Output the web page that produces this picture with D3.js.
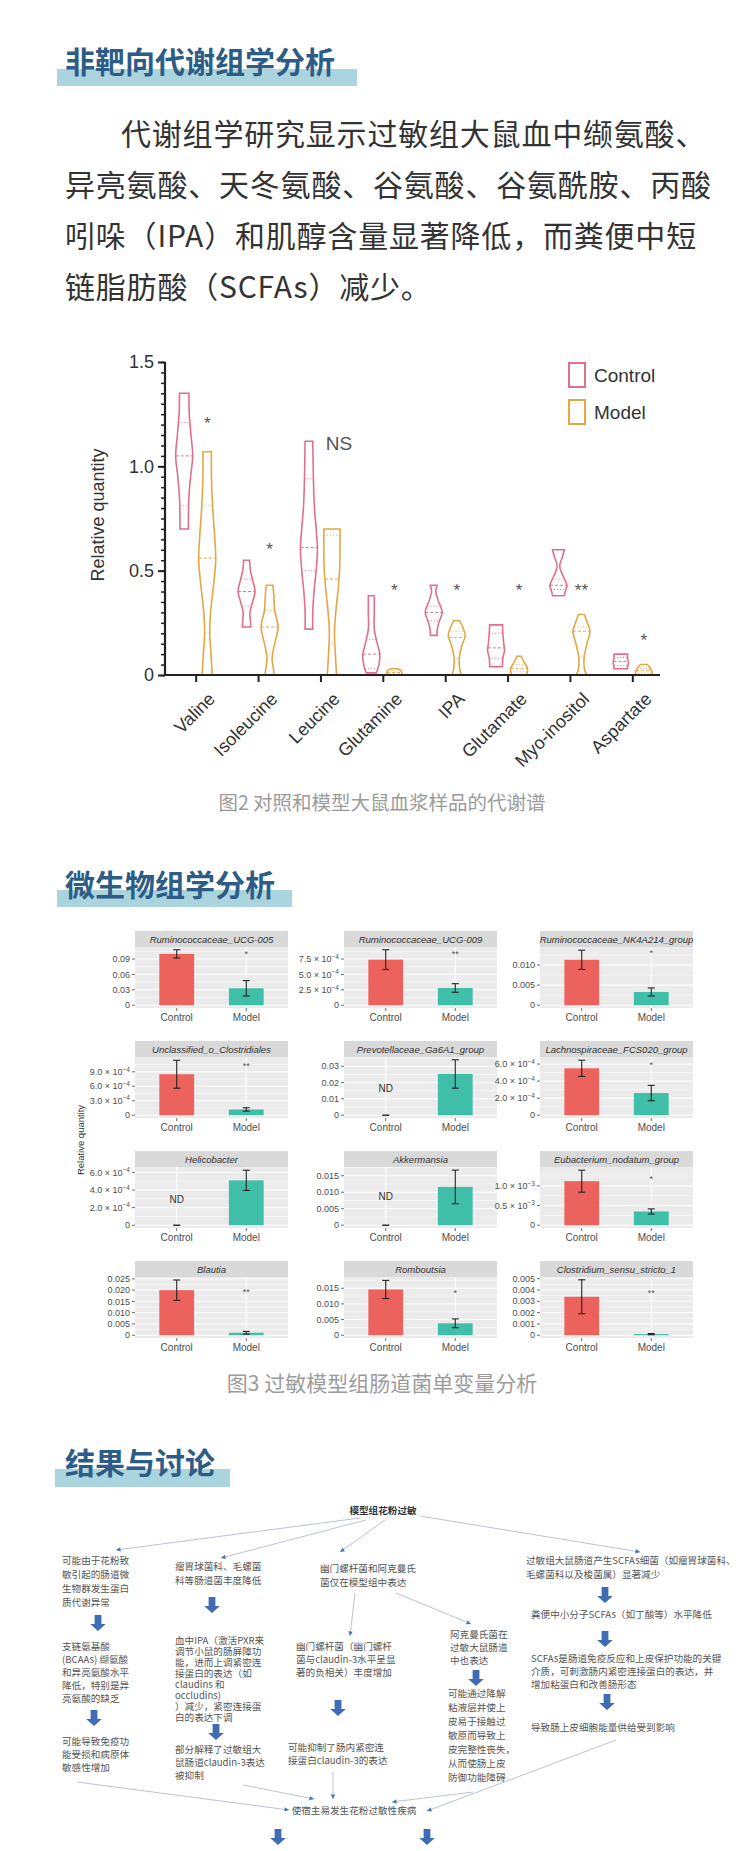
<!DOCTYPE html>
<html><head><meta charset="utf-8">
<script src="https://cdn.jsdelivr.net/npm/d3@7"></script>
<style>body{margin:0;background:#fff}svg{display:block}</style>
</head><body>
<svg id="c" width="756" height="1851"></svg>
<script>
// ---------------- DATA ----------------
const sectionTitles = ["非靶向代谢组学分析", "微生物组学分析", "结果与讨论"];
const paragraphLines = ["代谢组学研究显示过敏组大鼠血中缬氨酸、", "异亮氨酸、天冬氨酸、谷氨酸、谷氨酰胺、丙酸", "吲哚（IPA）和肌醇含量显著降低，而粪便中短", "链脂肪酸（SCFAs）减少。"];
const captions = ["图2 对照和模型大鼠血浆样品的代谢谱", "图3 过敏模型组肠道菌单变量分析"];

// Violin chart (Fig 2)
const metabolites = ["Valine", "Isoleucine", "Leucine", "Glutamine", "IPA", "Glutamate", "Myo-inositol", "Aspartate"];
const violinGroups = ["Control", "Model"];
const violinYTicks = [0, 0.5, 1.0, 1.5];
// profiles: [value, relative half-width]
const controlProfiles = [
  [[1.35,0.55],[1.25,0.6],[1.15,0.8],[1.05,1.0],[0.95,0.75],[0.85,0.55],[0.75,0.5],[0.70,0.5]],
  [[0.55,0.35],[0.50,0.45],[0.45,0.75],[0.40,1.0],[0.35,0.7],[0.30,0.4],[0.26,0.45],[0.23,0.5]],
  [[1.12,0.45],[1.0,0.5],[0.9,0.55],[0.8,0.65],[0.7,0.85],[0.6,1.0],[0.5,0.85],[0.4,0.6],[0.3,0.45],[0.22,0.45]],
  [[0.38,0.35],[0.30,0.35],[0.22,0.35],[0.15,0.7],[0.10,1.0],[0.05,0.9],[0.01,0.6]],
  [[0.43,0.4],[0.40,0.25],[0.36,0.5],[0.30,1.0],[0.25,0.6],[0.21,0.4],[0.19,0.4]],
  [[0.24,0.75],[0.20,0.8],[0.15,0.9],[0.12,1.0],[0.08,0.8],[0.05,0.75],[0.04,0.75]],
  [[0.60,0.7],[0.57,0.5],[0.52,0.15],[0.47,0.6],[0.43,1.0],[0.40,0.8],[0.38,0.7]],
  [[0.10,0.8],[0.08,0.8],[0.06,0.9],[0.04,0.8],[0.03,0.8]]
];
const modelProfiles = [
  [[1.07,0.5],[0.95,0.5],[0.8,0.65],[0.65,0.9],[0.55,1.0],[0.45,0.8],[0.3,0.4],[0.2,0.3],[0.1,0.45],[0,0.6]],
  [[0.43,0.4],[0.38,0.5],[0.31,0.6],[0.23,1.0],[0.15,0.6],[0.08,0.3],[0.03,0.45],[0,0.55]],
  [[0.70,0.95],[0.60,0.95],[0.50,0.9],[0.40,0.7],[0.30,0.45],[0.20,0.3],[0.10,0.4],[0,0.55]],
  [[0.03,0.4],[0.02,0.8],[0,0.9]],
  [[0.26,0.35],[0.23,0.7],[0.19,1.0],[0.14,0.6],[0.08,0.3],[0.03,0.35],[0,0.55]],
  [[0.09,0.25],[0.06,0.6],[0.03,1.0],[0,0.9]],
  [[0.29,0.35],[0.25,0.7],[0.21,1.0],[0.15,0.65],[0.08,0.3],[0.03,0.35],[0,0.6]],
  [[0.05,0.4],[0.03,0.8],[0.01,1.0],[0,0.9]]
];
const controlMedian = [1.05, 0.40, 0.61, 0.10, 0.30, 0.13, 0.43, 0.065];
const controlQ1 = [0.81, 0.33, 0.50, 0.03, 0.26, 0.08, 0.41, 0.045];
const controlQ3 = [1.21, 0.46, 0.94, 0.17, 0.33, 0.20, 0.46, 0.085];
const modelMedian = [0.56, 0.23, 0.46, 0.012, 0.18, 0.03, 0.21, 0.02];
const modelQ1 = [0.20, 0.10, 0.15, 0.005, 0.08, 0.015, 0.09, 0.01];
const modelQ3 = [0.81, 0.31, 0.67, 0.02, 0.21, 0.05, 0.23, 0.03];
const violinSig = ["*", "*", "NS", "*", "*", "*", "**", "*"];
const violinSigValue = [1.22, 0.62, 1.11, 0.42, 0.42, 0.42, 0.42, 0.18];

// Bar panels (Fig 3)
const taxa = ["Ruminococcaceae_UCG-005", "Ruminococcaceae_UCG-009", "Ruminococcaceae_NK4A214_group",
  "Unclassified_o_Clostridiales", "Prevotellaceae_Ga6A1_group", "Lachnospiraceae_FCS020_group",
  "Helicobacter", "Akkermansia", "Eubacterium_nodatum_group",
  "Blautia", "Romboutsia", "Clostridium_sensu_stricto_1"];
const barGroups = ["Control", "Model"];
const controlMean = [0.100, 7.4e-4, 0.0113, 8.5e-4, 0, 5.5e-4, 0, 0, 1.12e-3, 0.020, 0.0146, 0.0034];
const controlErr  = [0.008, 1.6e-4, 0.0024, 2.9e-4, 0, 0.95e-4, 0, 0, 0.28e-3, 0.0045, 0.0029, 0.0015];
const modelMean   = [0.033, 2.8e-4, 0.0033, 1.2e-4, 0.0253, 2.6e-4, 5.1e-4, 0.0116, 0.35e-3, 0.0011, 0.0038, 0.0001];
const modelErr    = [0.015, 0.7e-4, 0.001, 0.35e-4, 0.0087, 0.9e-4, 1.15e-4, 0.0051, 0.065e-3, 0.0006, 0.0014, 0.00005];
const panelYMax   = [0.108, 9.0e-4, 0.0138, 11.5e-4, 0.034, 6.5e-4, 6.3e-4, 0.0168, 1.41e-3, 0.0246, 0.0177, 0.0049];
const panelTicks = [
  [0, 0.03, 0.06, 0.09], [0, 2.5e-4, 5e-4, 7.5e-4], [0, 0.005, 0.010],
  [0, 3e-4, 6e-4, 9e-4], [0, 0.01, 0.02, 0.03], [0, 2e-4, 4e-4, 6e-4],
  [0, 2e-4, 4e-4, 6e-4], [0, 0.005, 0.010, 0.015], [0, 0.5e-3, 1.0e-3],
  [0, 0.005, 0.010, 0.015, 0.020, 0.025], [0, 0.005, 0.010, 0.015], [0, 0.001, 0.002, 0.003, 0.004, 0.005]
];
const panelTickLabels = [
  ["0", "0.03", "0.06", "0.09"], ["0", "2.5 × 10^-4", "5.0 × 10^-4", "7.5 × 10^-4"], ["0", "0.005", "0.010"],
  ["0", "3.0 × 10^-4", "6.0 × 10^-4", "9.0 × 10^-4"], ["0", "0.01", "0.02", "0.03"], ["0", "2.0 × 10^-4", "4.0 × 10^-4", "6.0 × 10^-4"],
  ["0", "2.0 × 10^-4", "4.0 × 10^-4", "6.0 × 10^-4"], ["0", "0.005", "0.010", "0.015"], ["0", "0.5 × 10^-3", "1.0 × 10^-3"],
  ["0", "0.005", "0.010", "0.015", "0.020", "0.025"], ["0", "0.005", "0.010", "0.015"], ["0", "0.001", "0.002", "0.003", "0.004", "0.005"]
];
const panelSig = ["*", "**", "*", "**", "", "*", "", "", "*", "**", "*", "**"];
const panelSigValue = [0.103, 8.6e-4, 0.0134, 10.6e-4, 0, 6.1e-4, 0, 0, 1.22e-3, 0.020, 0.0142, 0.0039];
const panelND = [null, null, null, null, 0.0163, null, 2.9e-4, 0.0088, null, null, null, null];

// Flowchart
const flowTop = "模型组花粉过敏";
const flowBottom = "使宿主易发生花粉过敏性疾病";
const flowA = [["可能由于花粉致", "敏引起的肠道微", "生物群发生蛋白", "质代谢异常"],
  ["支链氨基酸", "(BCAAs) 缬氨酸", "和异亮氨酸水平", "降低，特别是异", "亮氨酸的缺乏"],
  ["可能导致免疫功", "能受损和病原体", "敏感性增加"]];
const flowB = [["瘤胃球菌科、毛螺菌", "科等肠道菌丰度降低"],
  ["血中IPA（激活PXR来", "调节小鼠的肠屏障功", "能，进而上调紧密连", "接蛋白的表达（如", "claudins 和", "occludins)", "）减少，紧密连接蛋", "白的表达下调"],
  ["部分解释了过敏组大", "鼠肠道claudin-3表达", "被抑制"]];
const flowC = [["幽门螺杆菌和阿克曼氏", "菌仅在模型组中表达"],
  ["幽门螺杆菌（幽门螺杆", "菌与claudin-3水平呈显", "著的负相关）丰度增加"],
  ["可能抑制了肠内紧密连", "接蛋白claudin-3的表达"]];
const flowD = [["阿克曼氏菌在", "过敏大鼠肠道", "中也表达"],
  ["可能通过降解", "粘液层并使上", "皮易于接触过", "敏原而导致上", "皮完整性丧失，", "从而使肠上皮", "防御功能障碍"]];
const flowE = [["过敏组大鼠肠道产生SCFAs细菌（如瘤胃球菌科、", "毛螺菌科以及梭菌属）显著减少"],
  ["粪便中小分子SCFAs（如丁酸等）水平降低"],
  ["SCFAs是肠道免疫反应和上皮保护功能的关键", "介质，可刺激肠内紧密连接蛋白的表达，并", "增加粘蛋白和改善肠形态"],
  ["导致肠上皮细胞能量供给受到影响"]];

// ---------------- DRAW ----------------
const svg = d3.select("#c");
const CJK = "'Noto Sans CJK SC','Noto Sans',sans-serif";
const LAT = "'Liberation Sans',Arial,sans-serif";

// Section titles with band
const titleLayout = [{y: 73, band: [57, 69, 300, 17]}, {y: 896, band: [57, 890, 235, 17]}, {y: 1474, band: [55, 1469, 175, 18]}];
sectionTitles.forEach((t, i) => {
  const L = titleLayout[i];
  svg.append("rect").attr("x", L.band[0]).attr("y", L.band[1]).attr("width", L.band[2]).attr("height", L.band[3]).attr("fill", "#abd5de");
  svg.append("text").attr("x", 65).attr("y", L.y).text(t)
    .attr("font-family", CJK).attr("font-weight", 700).attr("font-size", 30).attr("fill", "#2d5c87");
});

// Paragraph
paragraphLines.forEach((t, i) => {
  svg.append("text").attr("x", i === 0 ? 121 : 65).attr("y", 145 + i * 51).text(t)
    .attr("font-family", CJK).attr("font-size", 30).attr("letter-spacing", 0.8).attr("fill", "#333");
});

// Captions
[[810, 19.5], [1391, 21]].forEach(([y, fs], i) => {
  svg.append("text").attr("x", 382).attr("y", y).attr("text-anchor", "middle").text(captions[i])
    .attr("font-family", CJK).attr("font-size", fs).attr("fill", "#9b9b9b");
});

// ---- Violin chart ----
(function () {
  const g = svg.append("g");
  const x = d3.scaleBand().domain(metabolites).range([165, 664]);
  const y = d3.scaleLinear().domain([0, 1.5]).range([675, 362]);
  const hw = 8.5;
  const offs = [-12, 11];
  const colors = ["#e0708b", "#e4a744"];
  const area = d3.area().curve(d3.curveCatmullRom.alpha(0.5));
  function widthAt(p, v) {
    for (let k = 0; k < p.length - 1; k++) {
      const a = p[k], b = p[k + 1];
      if (v <= a[0] && v >= b[0]) { const t = (a[0] - v) / (a[0] - b[0] || 1); return a[1] + (b[1] - a[1]) * t; }
    }
    return p[p.length - 1][1];
  }
  const profs = [controlProfiles, modelProfiles];
  const meds = [controlMedian, modelMedian], q1s = [controlQ1, modelQ1], q3s = [controlQ3, modelQ3];
  metabolites.forEach((m, i) => {
    [0, 1].forEach(gi => {
      const cx = x(m) + x.bandwidth() / 2 + offs[gi];
      const p = profs[gi][i];
      g.append("path").attr("d", area.x0(d => cx - d[1] * hw).x1(d => cx + d[1] * hw).y(d => y(d[0]))(p))
        .attr("fill", "none").attr("stroke", colors[gi]).attr("stroke-width", 1.6);
      [[meds[gi][i], "3,2"], [q1s[gi][i], "1,2"], [q3s[gi][i], "1,2"]].forEach(([v, da]) => {
        const w = widthAt(p, v) * hw;
        g.append("line").attr("x1", cx - w).attr("x2", cx + w).attr("y1", y(v)).attr("y2", y(v))
          .attr("stroke", colors[gi]).attr("stroke-width", 1).attr("stroke-dasharray", da);
      });
    });
    const sx = x(m) + x.bandwidth() / 2 + (violinSig[i] === "NS" ? 18 : 11);
    g.append("text").attr("x", sx).attr("y", y(violinSigValue[i]) + (violinSig[i] === "NS" ? 7 : 9))
      .attr("text-anchor", "middle").text(violinSig[i])
      .attr("font-family", LAT).attr("font-size", violinSig[i] === "NS" ? 19 : 17).attr("fill", "#555");
  });
  const ya = g.append("g").attr("transform", "translate(165,0)")
    .call(d3.axisLeft(y).tickValues(d3.range(0, 1.5001, 0.05)).tickSize(4).tickFormat(""));
  ya.selectAll("line").attr("stroke", "#222").attr("stroke-width", 1.5);
  const ya2 = g.append("g").attr("transform", "translate(165,0)")
    .call(d3.axisLeft(y).tickValues(violinYTicks).tickSize(7).tickPadding(4).tickFormat(d => d === 0 ? "0" : d3.format(".1f")(d)));
  ya2.select(".domain").remove();
  ya2.selectAll("line").attr("stroke", "#222").attr("stroke-width", 2);
  ya2.selectAll("text").attr("font-family", LAT).attr("font-size", 18).attr("fill", "#333");
  ya.select(".domain").attr("stroke", "#222").attr("stroke-width", 2.2).attr("d", "M0,362V675");
  const xa = g.append("g").attr("transform", "translate(0,675)")
    .call(d3.axisBottom(x).tickSize(7).tickSizeOuter(0));
  xa.select(".domain").attr("stroke", "#222").attr("stroke-width", 2.2).attr("d", "M165,0H660");
  xa.selectAll("line").attr("stroke", "#222").attr("stroke-width", 2);
  xa.selectAll("text").attr("font-family", LAT).attr("font-size", 18).attr("fill", "#333")
    .attr("text-anchor", "end").attr("transform", "translate(4,4) rotate(-45)").attr("dy", "0.9em").attr("dx", "-0.2em");
  g.append("text").attr("transform", "translate(104,515) rotate(-90)").attr("text-anchor", "middle")
    .text("Relative quantity").attr("font-family", LAT).attr("font-size", 18).attr("fill", "#333");
  violinGroups.forEach((k, i) => {
    g.append("rect").attr("x", 569).attr("y", 363 + i * 37).attr("width", 16).attr("height", 24)
      .attr("fill", "none").attr("stroke", colors[i]).attr("stroke-width", 2);
    g.append("text").attr("x", 594).attr("y", 382 + i * 37).text(k)
      .attr("font-family", LAT).attr("font-size", 19).attr("fill", "#333");
  });
})();

// ---- Bar panels ----
(function () {
  const g = svg.append("g");
  const cols = [135, 344, 540], pw = 153, stripH = 16, ph = 61, rowPitch = 110, top0 = 931;
  const barColors = ["#ec625d", "#3fbfa7"];
  function addLabel(sel, lab) {
    const m = lab.match(/^(.*) × 10\^(-?\d+)$/);
    if (!m) { sel.text(lab); return; }
    sel.append("tspan").text(m[1] + " × 10");
    sel.append("tspan").text(m[2].replace("-", "−")).attr("dy", -3.5).attr("font-size", 6.5);
  }
  taxa.forEach((name, i) => {
    const r = Math.floor(i / 3), c = i % 3;
    const x0 = cols[c], st = top0 + r * rowPitch, pt = st + stripH, pb = pt + ph;
    const ymax = panelYMax[i];
    const y = d3.scaleLinear().domain([-0.05 * ymax, 1.05 * ymax]).range([pb, pt]);
    const x = d3.scalePoint().domain(barGroups).range([x0, x0 + pw]).padding(0.6);
    const bw = x.step() * 0.5;
    g.append("rect").attr("x", x0).attr("y", pt).attr("width", pw).attr("height", ph).attr("fill", "#ebebeb");
    const tks = panelTicks[i];
    const step = tks[1] - tks[0];
    const minor = [];
    for (let v = tks[0] - step / 2; v <= 1.05 * ymax; v += step) if (v >= -0.05 * ymax) minor.push(v);
    minor.forEach(v => g.append("line").attr("x1", x0).attr("x2", x0 + pw).attr("y1", y(v)).attr("y2", y(v)).attr("stroke", "#fff").attr("stroke-width", 0.5));
    tks.forEach(v => g.append("line").attr("x1", x0).attr("x2", x0 + pw).attr("y1", y(v)).attr("y2", y(v)).attr("stroke", "#fff").attr("stroke-width", 1));
    barGroups.forEach(k => g.append("line").attr("x1", x(k)).attr("x2", x(k)).attr("y1", pt).attr("y2", pb).attr("stroke", "#fff").attr("stroke-width", 1));
    g.append("rect").attr("x", x0).attr("y", st).attr("width", pw).attr("height", stripH).attr("fill", "#d9d9d9");
    g.append("text").attr("x", x0 + pw / 2).attr("y", st + 11.5).attr("text-anchor", "middle").text(name)
      .attr("font-family", LAT).attr("font-style", "italic").attr("font-size", 9.5).attr("fill", "#333");
    tks.forEach((v, k) => {
      g.append("line").attr("x1", x0 - 3).attr("x2", x0).attr("y1", y(v)).attr("y2", y(v)).attr("stroke", "#444").attr("stroke-width", 0.8);
      const t = g.append("text").attr("x", x0 - 5).attr("y", y(v) + 3.2).attr("text-anchor", "end")
        .attr("font-family", LAT).attr("font-size", 9).attr("fill", "#4d4d4d");
      addLabel(t, panelTickLabels[i][k]);
    });
    barGroups.forEach(k => {
      g.append("line").attr("x1", x(k)).attr("x2", x(k)).attr("y1", pb).attr("y2", pb + 3).attr("stroke", "#444").attr("stroke-width", 0.8);
      g.append("text").attr("x", x(k)).attr("y", pb + 13).attr("text-anchor", "middle").text(k)
        .attr("font-family", LAT).attr("font-size", 10).attr("fill", "#4d4d4d");
    });
    const means = [controlMean[i], modelMean[i]], errs = [controlErr[i], modelErr[i]];
    barGroups.forEach((k, gi) => {
      const cx = x(k);
      if (gi === 0 && panelND[i] !== null) {
        g.append("line").attr("x1", cx - 3.5).attr("x2", cx + 3.5).attr("y1", y(0)).attr("y2", y(0)).attr("stroke", "#333").attr("stroke-width", 1.5);
        g.append("text").attr("x", cx).attr("y", y(panelND[i]) + 3.5).attr("text-anchor", "middle").text("ND")
          .attr("font-family", LAT).attr("font-size", 10).attr("fill", "#333");
        return;
      }
      g.append("rect").attr("x", cx - bw / 2).attr("y", y(means[gi])).attr("width", bw)
        .attr("height", Math.max(1.2, y(0) - y(means[gi]))).attr("fill", barColors[gi]);
      const lo = means[gi] - errs[gi], hi = means[gi] + errs[gi];
      g.append("line").attr("x1", cx).attr("x2", cx).attr("y1", y(lo)).attr("y2", y(hi)).attr("stroke", "#222").attr("stroke-width", 1.1);
      [lo, hi].forEach(v => g.append("line").attr("x1", cx - 3.5).attr("x2", cx + 3.5).attr("y1", y(v)).attr("y2", y(v)).attr("stroke", "#222").attr("stroke-width", 1.1));
    });
    if (panelSig[i]) {
      g.append("text").attr("x", x("Model")).attr("y", y(panelSigValue[i]) + 5).attr("text-anchor", "middle").text(panelSig[i])
        .attr("font-family", LAT).attr("font-size", 9).attr("fill", "#555");
    }
  });
  g.append("text").attr("transform", "translate(84,1140) rotate(-90)").attr("text-anchor", "middle")
    .text("Relative quantity").attr("font-family", LAT).attr("font-size", 9.5).attr("fill", "#333");
})();

// ---- Flowchart ----
(function () {
  const g = svg.append("g");
  const fs = 9.6, col = "#555", lineCol = "#a9b3c6", headCol = "#4a72b8", blockCol = "#3f6cb5";
  function block(lines, x, y, lh, opts = {}) {
    lines.forEach((t, k) => g.append("text").attr("x", x).attr("y", y + k * lh + 3.4).text(t)
      .attr("font-family", CJK).attr("font-size", opts.fs || fs).attr("fill", opts.fill || col)
      .attr("text-anchor", opts.anchor || "start").attr("font-weight", opts.fw || 400));
  }
  function thin(x1, y1, x2, y2) {
    g.append("line").attr("x1", x1).attr("y1", y1).attr("x2", x2).attr("y2", y2).attr("stroke", lineCol).attr("stroke-width", 0.8);
    const a = Math.atan2(y2 - y1, x2 - x1), L = 4.5, W = 2.2;
    const bx = x2 - L * Math.cos(a), by = y2 - L * Math.sin(a);
    g.append("path").attr("d", `M${x2},${y2}L${bx - W * Math.sin(a)},${by + W * Math.cos(a)}L${bx + W * Math.sin(a)},${by - W * Math.cos(a)}Z`).attr("fill", headCol);
  }
  function bigArrow(cx, yt) {
    const h = 16, sw = 3.4, hw = 7.8, hh = 7;
    g.append("path").attr("d", `M${cx - sw},${yt}H${cx + sw}V${yt + h - hh}H${cx + hw}L${cx},${yt + h}L${cx - hw},${yt + h - hh}H${cx - sw}Z`).attr("fill", blockCol);
  }
  block([flowTop], 383, 1511, 0, {anchor: "middle", fill: "#333", fw: 700});
  thin(360, 1518, 116, 1550);
  thin(366, 1520, 221, 1558);
  thin(385, 1520, 340, 1552);
  thin(420, 1516, 640, 1552);
  block(flowA[0], 62, 1561, 14); bigArrow(98, 1615);
  block(flowA[1], 62, 1647, 13); bigArrow(94, 1710);
  block(flowA[2], 62, 1742, 13);
  block(flowB[0], 175, 1567, 14); bigArrow(212, 1597);
  block(flowB[1], 175, 1641, 11); bigArrow(216, 1724);
  block(flowB[2], 175, 1750, 13);
  block(flowC[0], 320, 1569, 14);
  thin(355, 1593, 350, 1636);
  thin(396, 1593, 471, 1624);
  block(flowC[1], 296, 1647, 13); bigArrow(338, 1700);
  block(flowC[2], 288, 1748, 13);
  block(flowD[0], 450, 1635, 13); bigArrow(476, 1670);
  block(flowD[1], 448, 1694, 14);
  block(flowE[0], 526, 1561, 14); bigArrow(605, 1587);
  block(flowE[1], 531, 1615, 13); bigArrow(605, 1631);
  block(flowE[2], 531, 1659, 13); bigArrow(607, 1694);
  block(flowE[3], 531, 1728, 13);
  thin(77, 1782, 289, 1810);
  thin(243, 1785, 314, 1799);
  thin(333, 1772, 333, 1799);
  thin(473, 1792, 392, 1802);
  thin(616, 1740, 427, 1811);
  block([flowBottom], 354, 1811, 0, {anchor: "middle"});
  bigArrow(278, 1829);
  bigArrow(427, 1829);
})();
</script>
</body></html>
